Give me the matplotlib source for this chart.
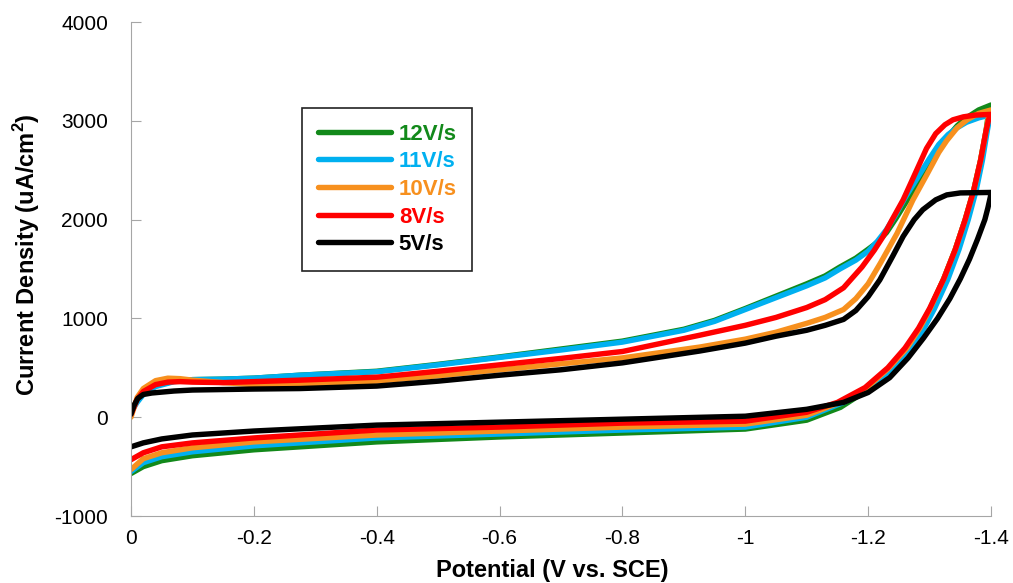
import matplotlib
matplotlib.use("Agg")
import matplotlib.pyplot as plt

plt.rcParams['font.family'] = ['Liberation Sans', 'DejaVu Sans']
plt.rcParams['mathtext.fontset'] = 'custom'
plt.rcParams['mathtext.rm'] = 'Liberation Sans'
plt.rcParams['mathtext.bf'] = 'Liberation Sans:bold'
plt.rcParams['axes.unicode_minus'] = False

# --- data (potential in V vs. SCE, current in uA/cm2) ---
labels = ['12V/s', '11V/s', '10V/s', '8V/s', '5V/s']
colors = ['#12891a', '#00b0f0', '#f7901e', '#ff0000', '#000000']

# forward (upper) branches, 0 -> -1.4 V
pot_12_up = [0, -0.01, -0.02, -0.04, -0.07, -0.1, -0.15, -0.2, -0.275, -0.4, -0.5, -0.6, -0.7, -0.8,
             -0.9, -0.95, -1.0, -1.05, -1.1, -1.13, -1.154, -1.18, -1.2, -1.215, -1.23, -1.245, -1.26,
             -1.28, -1.3, -1.315, -1.33, -1.345, -1.36, -1.38, -1.4]
cur_12_up = [60, 170, 250, 320, 365, 380, 385, 395, 425, 465, 535, 610, 690, 770,
             890, 980, 1100, 1225, 1350, 1430, 1520, 1610, 1700, 1770, 1870, 2010, 2160,
             2360, 2560, 2710, 2840, 2950, 3030, 3110, 3160]
pot_11_up = [0, -0.01, -0.02, -0.04, -0.07, -0.1, -0.15, -0.2, -0.275, -0.4, -0.5, -0.6, -0.7, -0.8,
             -0.9, -0.95, -1.0, -1.05, -1.1, -1.13, -1.154, -1.18, -1.2, -1.215, -1.23, -1.245, -1.26,
             -1.28, -1.3, -1.315, -1.33, -1.345, -1.36, -1.38, -1.4]
cur_11_up = [50, 150, 230, 310, 360, 380, 385, 395, 425, 460, 530, 605, 680, 760,
             880, 970, 1090, 1210, 1330, 1410, 1500, 1590, 1680, 1780, 1900, 2050, 2220,
             2420, 2620, 2760, 2860, 2930, 2985, 3030, 3060]
pot_10_up = [0, -0.01, -0.02, -0.04, -0.06, -0.08, -0.1, -0.15, -0.2, -0.275, -0.4, -0.5, -0.6, -0.7,
             -0.8, -0.926, -1.0, -1.05, -1.1, -1.13, -1.16, -1.18, -1.2, -1.22, -1.247, -1.273, -1.296,
             -1.315, -1.328, -1.345, -1.361, -1.38, -1.4]
cur_10_up = [0, 200, 290, 370, 395, 390, 375, 350, 330, 335, 365, 420, 480, 540,
             600, 710, 790, 860, 950, 1010, 1090, 1200, 1350, 1560, 1860, 2200, 2460,
             2680, 2800, 2930, 3010, 3075, 3110]
pot_8_up = [0, -0.01, -0.02, -0.04, -0.06, -0.08, -0.1, -0.15, -0.2, -0.275, -0.4, -0.5, -0.6, -0.7,
            -0.8, -0.926, -1.0, -1.05, -1.1, -1.13, -1.16, -1.19, -1.21, -1.224, -1.24, -1.257, -1.279,
            -1.295, -1.31, -1.325, -1.338, -1.355, -1.375, -1.4]
cur_8_up = [30, 180, 260, 330, 355, 360, 355, 350, 360, 375, 405, 465, 530, 595,
            665, 830, 930, 1010, 1110, 1190, 1310, 1520, 1690, 1825, 2010, 2200, 2500,
            2720, 2870, 2960, 3010, 3040, 3058, 3065]
pot_5_up = [0, -0.005, -0.011, -0.02, -0.034, -0.07, -0.1, -0.2, -0.275, -0.4, -0.5, -0.6, -0.7,
            -0.8, -0.926, -1.0, -1.05, -1.1, -1.13, -1.16, -1.18, -1.2, -1.219, -1.24, -1.257, -1.275,
            -1.289, -1.31, -1.328, -1.35, -1.4]
cur_5_up = [30, 120, 190, 230, 245, 265, 275, 285, 290, 315, 365, 425, 480,
            550, 670, 750, 820, 880, 930, 990, 1080, 1220, 1390, 1630, 1830, 2000,
            2100, 2200, 2250, 2270, 2275]

# reverse (lower) branches, -1.4 -> 0 V
pot_12_dn = [-1.4, -1.396, -1.392, -1.383, -1.372, -1.358, -1.342, -1.323, -1.301, -1.284, -1.263,
             -1.235, -1.205, -1.155, -1.1, -1.0, -0.8, -0.6, -0.4, -0.2, -0.1, -0.05, -0.02, 0]
cur_12_dn = [3160, 3080, 2900, 2600, 2300, 2000, 1700, 1400, 1100, 900, 700,
             500, 300, 100, -30, -120, -160, -200, -250, -330, -390, -440, -500, -570]
pot_11_dn = [-1.4, -1.397, -1.394, -1.386, -1.376, -1.363, -1.348, -1.33, -1.308, -1.291, -1.27,
             -1.24, -1.205, -1.16, -1.1, -1.0, -0.8, -0.6, -0.4, -0.2, -0.1, -0.05, -0.02, 0]
cur_11_dn = [3060, 3000, 2900, 2600, 2300, 2000, 1700, 1400, 1100, 900, 700,
             500, 300, 150, 0, -100, -130, -170, -210, -290, -350, -400, -460, -550]
pot_10_dn = [-1.4, -1.396, -1.392, -1.383, -1.372, -1.358, -1.342, -1.323, -1.301, -1.284, -1.263,
             -1.234, -1.198, -1.15, -1.1, -1.0, -0.8, -0.6, -0.4, -0.2, -0.1, -0.05, -0.02, 0]
cur_10_dn = [3110, 3040, 2900, 2600, 2300, 2000, 1700, 1400, 1100, 900, 700,
             500, 300, 140, 20, -70, -100, -140, -180, -250, -310, -360, -420, -530]
pot_8_dn = [-1.4, -1.396, -1.392, -1.383, -1.372, -1.358, -1.342, -1.323, -1.300, -1.282, -1.260,
            -1.232, -1.195, -1.15, -1.1, -1.0, -0.8, -0.6, -0.4, -0.2, -0.1, -0.05, -0.02, 0]
cur_8_dn = [3065, 3010, 2900, 2600, 2300, 2000, 1700, 1400, 1100, 900, 700,
            500, 300, 150, 50, -40, -60, -100, -130, -210, -260, -300, -360, -430]
pot_5_dn = [-1.4, -1.399, -1.395, -1.39, -1.378, -1.365, -1.35, -1.333, -1.313, -1.29, -1.265,
            -1.235, -1.2, -1.16, -1.1, -1.0, -0.8, -0.6, -0.4, -0.2, -0.1, -0.05, -0.02, 0]
cur_5_dn = [2275, 2230, 2120, 2000, 1800, 1600, 1400, 1200, 1000, 800, 600,
            400, 250, 150, 80, 10, -20, -50, -80, -140, -180, -220, -260, -300]

x_ticks = [0, -0.2, -0.4, -0.6, -0.8, -1.0, -1.2, -1.4]
x_tick_labels = ['0', '-0.2', '-0.4', '-0.6', '-0.8', '-1', '-1.2', '-1.4']
y_ticks = [-1000, 0, 1000, 2000, 3000, 4000]

curves = [
    (pot_12_up + pot_12_dn, cur_12_up + cur_12_dn),
    (pot_11_up + pot_11_dn, cur_11_up + cur_11_dn),
    (pot_10_up + pot_10_dn, cur_10_up + cur_10_dn),
    (pot_8_up + pot_8_dn, cur_8_up + cur_8_dn),
    (pot_5_up + pot_5_dn, cur_5_up + cur_5_dn),
]

fig = plt.figure(figsize=(10.13, 5.83), dpi=100)
ax = fig.add_axes([131 / 1013, 1 - 516 / 583, 860 / 1013, 494 / 583])

for (xs, ys), lab, col in zip(curves, labels, colors):
    ax.plot(xs, ys, color=col, lw=3.9, label=lab, solid_joinstyle='round', solid_capstyle='round')

ax.set_xlim(0, -1.4)
ax.set_ylim(-1000, 4000)
ax.set_xticks(x_ticks)
ax.set_xticklabels(x_tick_labels)
ax.set_yticks(y_ticks)

for side in ['top', 'right']:
    ax.spines[side].set_visible(False)
for side in ['left', 'bottom']:
    ax.spines[side].set_color('#a6a6a6')
    ax.spines[side].set_linewidth(0.8)

ax.tick_params(axis='both', direction='in', color='#a6a6a6', width=0.8, length=7, labelsize=15)
ax.tick_params(axis='y', pad=16.5)
ax.tick_params(axis='x', pad=9.5)

fig.text(552 / 1013, 1 - 571 / 583, 'Potential (V vs. SCE)', ha='center', va='center',
         fontsize=17, fontweight='bold')
fig.text(27 / 1013, 1 - 255 / 583, r'Current Density (uA/cm$^\mathbf{2}$)', ha='center', va='center',
         rotation=90, fontsize=17, fontweight='bold')

leg = ax.legend(loc='upper left', bbox_to_anchor=(0.199, 0.826), borderaxespad=0,
                frameon=True, fancybox=False, edgecolor='#222222', framealpha=1,
                prop={'size': 16, 'weight': 'bold'}, handlelength=3.3, handletextpad=0.35,
                labelspacing=0.3, borderpad=0.7)
leg.get_frame().set_linewidth(1.2)
for txt, col in zip(leg.get_texts(), colors):
    txt.set_color(col)

fig.savefig('out.png', dpi=100)
